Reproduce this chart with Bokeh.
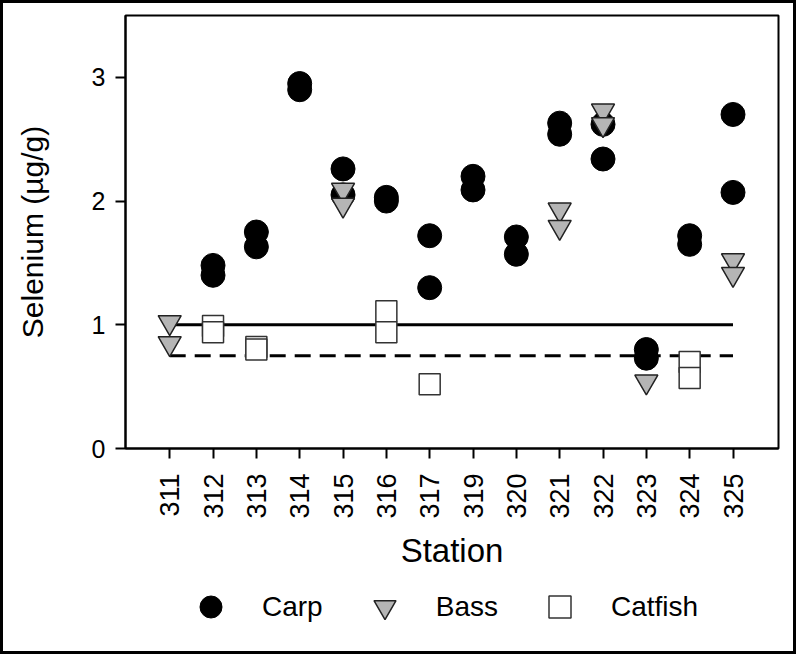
import math
from bokeh.plotting import figure
from bokeh.layouts import column
from bokeh.models import Range1d, FixedTicker, Legend, LegendItem
from bokeh.embed import file_html
from bokeh.resources import INLINE

# ---- data ----
stations = ["311", "312", "313", "314", "315", "316", "317",
            "319", "320", "321", "322", "323", "324", "325"]

carp_station = ["312", "312", "313", "313", "314", "314", "315", "315",
                "316", "316", "317", "317", "319", "319", "320", "320",
                "321", "321", "322", "322", "323", "323", "324", "324",
                "325", "325"]
carp_value = [1.48, 1.40, 1.75, 1.63, 2.95, 2.90, 2.26, 2.05,
              2.03, 2.00, 1.72, 1.30, 2.20, 2.09, 1.71, 1.57,
              2.63, 2.54, 2.62, 2.34, 0.80, 0.73, 1.72, 1.65,
              2.70, 2.07]

bass_station = ["311", "311", "315", "315", "321", "321", "322", "322",
                "323", "325", "325"]
bass_value = [1.02, 0.85, 2.09, 1.97, 1.93, 1.79, 2.73, 2.62,
              0.54, 1.52, 1.41]

catfish_station = ["312", "312", "313", "313", "316", "316", "317",
                   "324", "324"]
catfish_value = [0.99, 0.94, 0.82, 0.80, 1.11, 0.94, 0.52, 0.70, 0.57]

solid_level = 1.0    # reference level (solid line)
dashed_level = 0.75  # reference level (dashed line)

y_ticks = [0, 1, 2, 3]
series_names = ["Carp", "Bass", "Catfish"]

# ---- helpers ----
idx = {s: i for i, s in enumerate(stations)}
carp_x = [idx[s] for s in carp_station]
bass_x = [idx[s] for s in bass_station]
cat_x = [idx[s] for s in catfish_station]
line_x = [idx[stations[0]], idx[stations[-1]]]
series_xy = [(carp_x, carp_value), (bass_x, bass_value), (cat_x, catfish_value)]

FONT = "Liberation Sans"
STYLES = [
    dict(marker="circle", size=24, fill_color="black", line_color="black", line_width=1),
    dict(marker="inverted_triangle", size=23, fill_color="#b5b5b5",
         line_color="#222222", line_width=1.5),
    dict(marker="square", size=21, fill_color="white", line_color="#333333",
         line_width=1.5),
]

p = figure(width=790, height=575, output_backend="svg", toolbar_location=None,
           x_range=Range1d(-1.02, 14.05), y_range=Range1d(0, 3.5),
           min_border_left=122, min_border_right=15,
           min_border_top=12, min_border_bottom=130)
p.background_fill_color = "white"
p.border_fill_color = "white"
p.outline_line_color = "black"
p.outline_line_width = 2
p.xgrid.visible = False
p.ygrid.visible = False

# reference lines
p.line(line_x, [solid_level, solid_level], line_color="black", line_width=3)
p.line(line_x, [dashed_level, dashed_level], line_color="black", line_width=3,
       line_dash="16 9")

for (xs, ys), st in zip(series_xy, STYLES):
    p.scatter(xs, ys, **st)

# axes
for ax in (p.xaxis[0], p.yaxis[0]):
    ax.axis_line_width = 2
    ax.axis_line_color = "black"
    ax.major_tick_line_width = 2
    ax.major_tick_line_color = "black"
    ax.major_tick_out = 10
    ax.major_tick_in = 0
    ax.minor_tick_line_color = None
    ax.major_label_text_font = FONT
    ax.major_label_text_color = "black"
    ax.axis_label_text_font = FONT
    ax.axis_label_text_font_style = "normal"
    ax.axis_label_text_color = "black"

p.xaxis.ticker = FixedTicker(ticks=list(range(len(stations))))
p.xaxis.major_label_overrides = {i: s for i, s in enumerate(stations)}
p.xaxis.major_label_orientation = math.pi / 2
p.xaxis.major_label_text_font_size = "27px"
p.xaxis.major_label_standoff = 15
p.xaxis.axis_label = "Station"
p.xaxis.axis_label_text_font_size = "33px"
p.xaxis.axis_label_standoff = 10

p.yaxis.ticker = FixedTicker(ticks=y_ticks)
p.yaxis.major_label_text_font_size = "25px"
p.yaxis.major_label_standoff = 10
p.yaxis.axis_label = "Selenium (\u00b5g/g)"
p.yaxis.axis_label_text_font_size = "30px"
p.yaxis.axis_label_standoff = 40

# ---- legend strip (same marker styles as the series) ----
q = figure(width=790, height=73, output_backend="svg", toolbar_location=None,
           x_range=Range1d(0, 1), y_range=Range1d(0, 1),
           x_axis_location=None, y_axis_location=None,
           min_border=0)
q.outline_line_color = None
q.background_fill_color = "white"
q.border_fill_color = "white"
q.xgrid.visible = False
q.ygrid.visible = False
items = []
for name, st, (xs, ys) in zip(series_names, STYLES, series_xy):
    # hidden proxy renderer: only its legend swatch is shown
    r = q.scatter(x=xs[:1], y=ys[:1], visible=False, **st)
    items.append(LegendItem(label=name, renderers=[r]))

legend = Legend(items=items, orientation="horizontal", location=(58, 17),
                glyph_width=55, glyph_height=55, label_height=55,
                label_standoff=24, spacing=34, padding=0, margin=0,
                border_line_color=None, background_fill_alpha=0,
                label_text_font=FONT, label_text_font_size="28px",
                label_text_color="black")
q.add_layout(legend, "center")

layout = column(p, q, spacing=0)
layout.styles = {"border": "3px solid black", "background-color": "white"}

open("out.html", "w").write(file_html(layout, INLINE))
